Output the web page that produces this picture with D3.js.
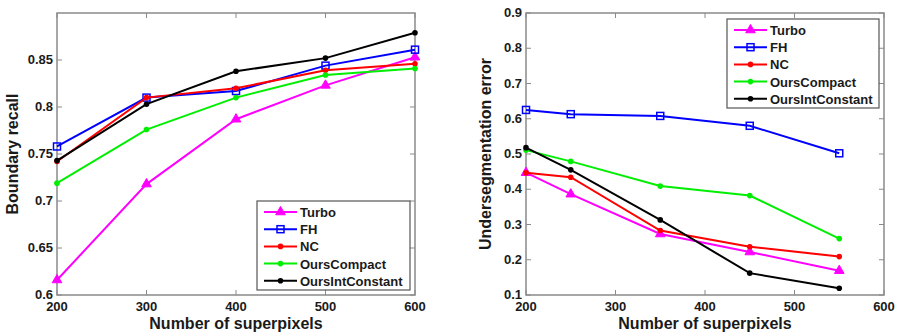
<!DOCTYPE html>
<html>
<head>
<meta charset="utf-8">
<script src="https://cdn.jsdelivr.net/npm/d3@7"></script>
<style>
body { margin: 0; background: #fff; }
text { font-family: "Liberation Sans", Arial, sans-serif; font-weight: bold; fill: #1a1a1a; }
</style>
</head>
<body>
<svg width="901" height="333"></svg>
<script>
// left plot: boundary recall
var recallX = [200, 300, 400, 500, 600];
var recallTurbo = [0.616, 0.718, 0.787, 0.823, 0.853];
var recallFH = [0.758, 0.810, 0.817, 0.844, 0.861];
var recallNC = [0.742, 0.810, 0.820, 0.839, 0.846];
var recallCompact = [0.719, 0.776, 0.810, 0.834, 0.841];
var recallIntConst = [0.743, 0.803, 0.838, 0.852, 0.879];
var recallYTicks = [0.6, 0.65, 0.7, 0.75, 0.8, 0.85];
var recallXTicks = [200, 300, 400, 500, 600];

// right plot: undersegmentation error
var errX = [200, 250, 350, 450, 550];
var errTurbo = [0.447, 0.386, 0.273, 0.222, 0.169];
var errFH = [0.625, 0.613, 0.608, 0.580, 0.502];
var errNC = [0.447, 0.434, 0.283, 0.237, 0.209];
var errCompact = [0.511, 0.479, 0.409, 0.382, 0.260];
var errIntConst = [0.518, 0.455, 0.313, 0.162, 0.119];
var errYTicks = [0.1, 0.2, 0.3, 0.4, 0.5, 0.6, 0.7, 0.8, 0.9];
var errXTicks = [200, 300, 400, 500, 600];

var names = ["Turbo", "FH", "NC", "OursCompact", "OursIntConstant"];
var colors = ["#ff00ff", "#0000ff", "#ff0000", "#00ee00", "#000000"];
var markers = ["tri", "sq", "dot", "dot", "dot"];

var svg = d3.select("svg");

function drawMarker(g, type, x, y, c) {
    if (type == "tri") {
        g.append("path").attr("d", d3.symbol().type(d3.symbolTriangle).size(40))
            .attr("transform", "translate(" + x + "," + y + ")")
            .attr("fill", c).attr("stroke", c);
    } else if (type == "sq") {
        g.append("rect").attr("x", x - 3.5).attr("y", y - 3.5).attr("width", 7).attr("height", 7)
            .attr("fill", "none").attr("stroke", c).attr("stroke-width", 1.5);
    } else {
        g.append("circle").attr("cx", x).attr("cy", y).attr("r", 2.8).attr("fill", c);
    }
}

function plot(opt) {
    var x = d3.scaleLinear().domain(opt.xdom).range([opt.left, opt.right]);
    var y = d3.scaleLinear().domain(opt.ydom).range([opt.bottom, opt.top]);
    var g = svg.append("g");

    g.append("rect").attr("x", opt.left).attr("y", opt.top)
        .attr("width", opt.right - opt.left).attr("height", opt.bottom - opt.top)
        .attr("fill", "#fff").attr("stroke", "#8a8a8a").attr("stroke-width", 1.5);

    // inward ticks on all four sides
    var tk = 5;
    opt.xticks.forEach(function(t) {
        g.append("line").attr("x1", x(t)).attr("x2", x(t)).attr("y1", opt.bottom).attr("y2", opt.bottom - tk).attr("stroke", "#8a8a8a");
        g.append("line").attr("x1", x(t)).attr("x2", x(t)).attr("y1", opt.top).attr("y2", opt.top + tk).attr("stroke", "#8a8a8a");
        g.append("text").attr("x", x(t)).attr("y", opt.bottom + 16).attr("text-anchor", "middle")
            .attr("font-size", 13).text(t);
    });
    opt.yticks.forEach(function(t) {
        g.append("line").attr("y1", y(t)).attr("y2", y(t)).attr("x1", opt.left).attr("x2", opt.left + tk).attr("stroke", "#8a8a8a");
        g.append("line").attr("y1", y(t)).attr("y2", y(t)).attr("x1", opt.right).attr("x2", opt.right - tk).attr("stroke", "#8a8a8a");
        g.append("text").attr("x", opt.left - 4).attr("y", y(t) + 4).attr("text-anchor", "end")
            .attr("font-size", 13).text(t);
    });

    g.append("text").attr("x", (opt.left + opt.right) / 2).attr("y", 329).attr("text-anchor", "middle")
        .attr("font-size", 16).text("Number of superpixels");
    g.append("text").attr("transform", "translate(" + opt.ylabX + "," + ((opt.top + opt.bottom) / 2) + ") rotate(-90)")
        .attr("text-anchor", "middle").attr("font-size", 16).text(opt.ylabel);

    var line = d3.line().x(function(d) { return x(d[0]); }).y(function(d) { return y(d[1]); });
    opt.series.forEach(function(s, i) {
        var pts = opt.xs.map(function(v, j) { return [v, s[j]]; });
        g.append("path").attr("d", line(pts)).attr("fill", "none")
            .attr("stroke", colors[i]).attr("stroke-width", 2);
        pts.forEach(function(p) { drawMarker(g, markers[i], x(p[0]), y(p[1]), colors[i]); });
    });

    // legend
    var L = opt.legend;
    g.append("rect").attr("x", L.x).attr("y", L.y).attr("width", L.w).attr("height", L.h)
        .attr("fill", "#fff").attr("stroke", "#555").attr("stroke-width", 1.2);
    names.forEach(function(n, i) {
        var ly = L.y + 11 + i * 17.2;
        g.append("line").attr("x1", L.x + 7).attr("x2", L.x + 40).attr("y1", ly).attr("y2", ly)
            .attr("stroke", colors[i]).attr("stroke-width", 2);
        drawMarker(g, markers[i], L.x + 23.5, ly, colors[i]);
        g.append("text").attr("x", L.x + 43).attr("y", ly + 5).attr("font-size", 13).text(n);
    });
}

plot({
    left: 57, right: 415, top: 13, bottom: 295,
    xdom: [200, 600], ydom: [0.6, 0.9],
    xticks: recallXTicks, yticks: recallYTicks,
    xs: recallX,
    series: [recallTurbo, recallFH, recallNC, recallCompact, recallIntConst],
    ylabel: "Boundary recall", ylabX: 18,
    legend: { x: 257, y: 201, w: 153, h: 89 }
});

plot({
    left: 526, right: 884, top: 13, bottom: 295,
    xdom: [200, 600], ydom: [0.1, 0.9],
    xticks: errXTicks, yticks: errYTicks,
    xs: errX,
    series: [errTurbo, errFH, errNC, errCompact, errIntConst],
    ylabel: "Undersegmentation error", ylabX: 491,
    legend: { x: 727, y: 19, w: 152, h: 89 }
});
</script>
</body>
</html>
